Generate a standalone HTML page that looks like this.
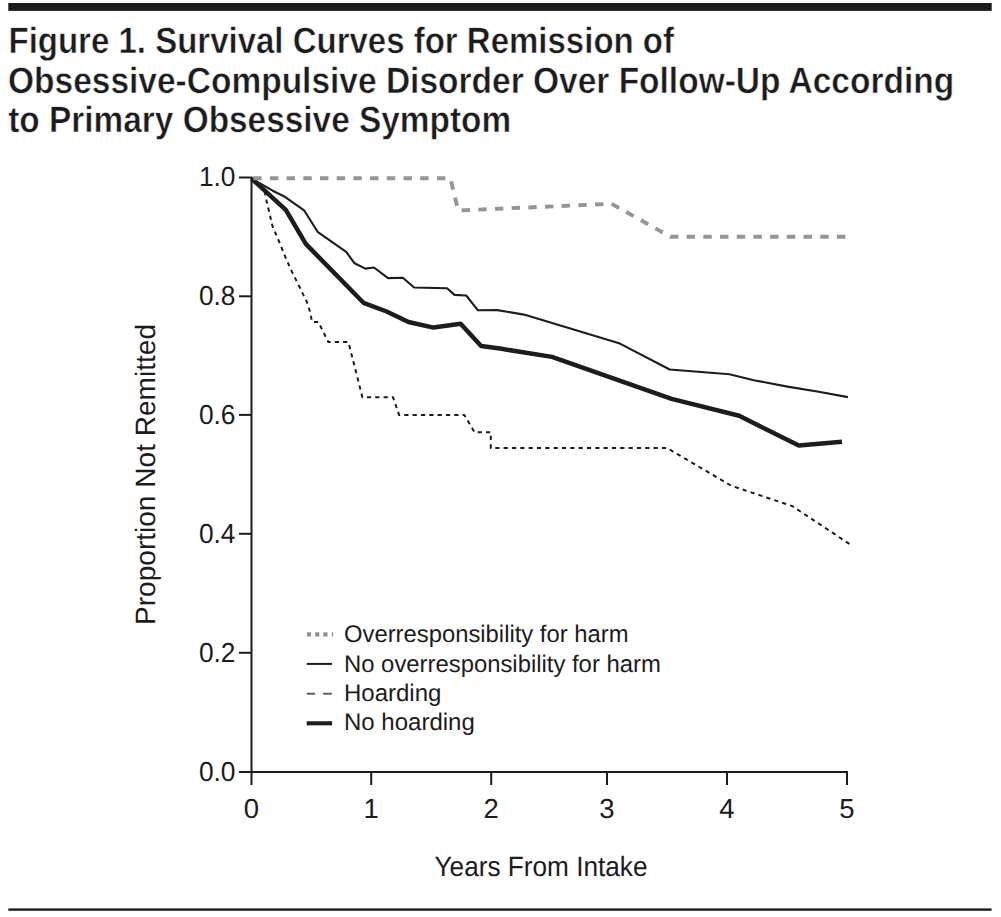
<!DOCTYPE html>
<html>
<head>
<meta charset="utf-8">
<style>
html,body{margin:0;padding:0;background:#fff;}
body{width:1001px;height:917px;overflow:hidden;position:relative;}
svg{position:absolute;left:0;top:0;}
text{font-family:"Liberation Sans", sans-serif;fill:#1c1c1c;text-rendering:geometricPrecision;}
</style>
</head>
<body>
<svg width="1001" height="917" viewBox="0 0 1001 917">
  <!-- top bar -->
  <rect x="8.3" y="3" width="983.4" height="7.9" fill="#1c1c1c"/>
  <!-- bottom rule -->
  <rect x="8.3" y="908.4" width="983.3" height="2.4" fill="#1c1c1c"/>

  <!-- title -->
  <g font-weight="bold" font-size="36.6" stroke="#ffffff" stroke-width="0.5">
    <text x="8.5" y="52.9" textLength="665.5" lengthAdjust="spacingAndGlyphs">Figure 1. Survival Curves for Remission of</text>
    <text x="8" y="92.5" textLength="946.2" lengthAdjust="spacingAndGlyphs">Obsessive-Compulsive Disorder Over Follow-Up According</text>
    <text x="8.2" y="132.1" textLength="503" lengthAdjust="spacingAndGlyphs">to Primary Obsessive Symptom</text>
  </g>

  <!-- axes -->
  <g stroke="#1c1c1c" stroke-width="2" fill="none">
    <line x1="251.5" y1="177.5" x2="251.5" y2="785"/>
    <line x1="239" y1="772" x2="848" y2="772"/>
    <line x1="239" y1="177.5" x2="252.5" y2="177.5"/>
    <line x1="239" y1="296.3" x2="251.5" y2="296.3"/>
    <line x1="239" y1="414.9" x2="251.5" y2="414.9"/>
    <line x1="239" y1="533.8" x2="251.5" y2="533.8"/>
    <line x1="239" y1="652.8" x2="251.5" y2="652.8"/>
    <line x1="371.2" y1="772" x2="371.2" y2="785"/>
    <line x1="491.2" y1="772" x2="491.2" y2="785"/>
    <line x1="607" y1="772" x2="607" y2="785"/>
    <line x1="727" y1="772" x2="727" y2="785"/>
    <line x1="847" y1="771" x2="847" y2="785"/>
  </g>

  <!-- y tick labels -->
  <g font-size="27.5" text-anchor="end" transform="translate(0.5,0)">
    <text x="235" y="186" textLength="36.6" lengthAdjust="spacingAndGlyphs">1.0</text>
    <text x="235" y="305" textLength="36.6" lengthAdjust="spacingAndGlyphs">0.8</text>
    <text x="235" y="423.5" textLength="36.6" lengthAdjust="spacingAndGlyphs">0.6</text>
    <text x="235" y="542.5" textLength="36.6" lengthAdjust="spacingAndGlyphs">0.4</text>
    <text x="235" y="661.5" textLength="36.6" lengthAdjust="spacingAndGlyphs">0.2</text>
    <text x="235" y="780.7" textLength="36.6" lengthAdjust="spacingAndGlyphs">0.0</text>
  </g>
  <!-- x tick labels -->
  <g font-size="27.5" text-anchor="middle">
    <text x="251.5" y="818">0</text>
    <text x="371.2" y="818">1</text>
    <text x="491.2" y="818">2</text>
    <text x="607" y="818">3</text>
    <text x="727" y="818">4</text>
    <text x="847" y="818">5</text>
  </g>

  <!-- axis titles -->
  <text x="434.5" y="876.3" font-size="28" textLength="213" lengthAdjust="spacingAndGlyphs">Years From Intake</text>
  <text transform="translate(154.8,625) rotate(-90)" x="0" y="0" font-size="28" textLength="301" lengthAdjust="spacingAndGlyphs">Proportion Not Remitted</text>

  <!-- curves -->

  <path d="M251.5,178.5 L272.7,190.7 L284.9,196.8 L304.1,210.3 L317.6,231.8 L346.2,251.9 L354.6,263.3 L365.3,268.6 L374,267.5 L388,278.1 L402.8,277.7 L414.1,287.5 L447.1,288.3 L454.5,294.9 L466.2,295.5 L478,310.3 L497.4,310.1 L524,314.6 L619.9,343.6 L669.7,369.5 L729.5,374.2 L753.8,380.2 L787.5,386.6 L818.7,391.7 L847.9,397.1" fill="none" stroke="#1c1c1c" stroke-width="2.1" stroke-linejoin="round"/>

  <path d="M251.5,178.5 L285.8,209.9 L305.8,243.9 L363.5,302.8 L386.6,311.5 L408.5,322 L433.5,327.6 L460.6,323.7 L481.1,346 L500,348.6 L552,356.9 L671.6,398.9 L739.2,415.8 L798.8,445.6 L842,441.8" fill="none" stroke="#1c1c1c" stroke-width="4.5" stroke-linejoin="round"/>

  <path d="M251.5,178.5 L264.5,190.5 L266.3,199.9 L268.5,209.1 L272.5,226.2 L279,241.4 L285.3,256.9 L292.1,272.1 L299.5,286.8 L303.2,294.6 L306.75,301.65 L309.45,309.75 L311.25,317.9 L312,321.9 L318.3,321.9 L328.4,342.1 L348.4,342.1 L362.4,397.2 L393,397.2 L399.1,414.9 L464.3,414.9 L474.6,432.3 L490.8,432.3 L490.8,448 L667,448 L731.2,485.7 L792.3,506.1 L850,544.3" fill="none" stroke="#1c1c1c" stroke-width="2" stroke-dasharray="4.2 4.13" stroke-dashoffset="6.485"/>
  <path d="M251.5,178.3 L450.4,178.3 L458.1,210.5 L611.5,203.8 L670.5,236.8 L848,236.8" fill="none" stroke="#959595" stroke-width="3.9" stroke-dasharray="8.4 8.3" stroke-dashoffset="15"/>

  <!-- legend -->
  <g>
    <rect x="307" y="632.3" width="3.9" height="4.2" fill="#8f8f8f"/>
    <rect x="315.2" y="632.3" width="4.1" height="4.2" fill="#8f8f8f"/>
    <rect x="323.3" y="632.3" width="4.2" height="4.2" fill="#8f8f8f"/>
    <rect x="331.8" y="632.3" width="1.3" height="4.2" fill="#8f8f8f"/>
    <line x1="306.7" y1="663.9" x2="332.1" y2="663.9" stroke="#1c1c1c" stroke-width="2"/>
    <line x1="306.9" y1="693.7" x2="315" y2="693.7" stroke="#555" stroke-width="1.9"/>
    <line x1="323.2" y1="693.7" x2="331.8" y2="693.7" stroke="#555" stroke-width="1.9"/>
    <line x1="306.7" y1="723.3" x2="332.1" y2="723.3" stroke="#1c1c1c" stroke-width="4.1"/>
  </g>
  <g font-size="24">
    <text x="344" y="642.2" textLength="284.5" lengthAdjust="spacingAndGlyphs">Overresponsibility for harm</text>
    <text x="344" y="671.6" textLength="316.8" lengthAdjust="spacingAndGlyphs">No overresponsibility for harm</text>
    <text x="344" y="701.1">Hoarding</text>
    <text x="344" y="730.1">No hoarding</text>
  </g>
</svg>
</body>
</html>
